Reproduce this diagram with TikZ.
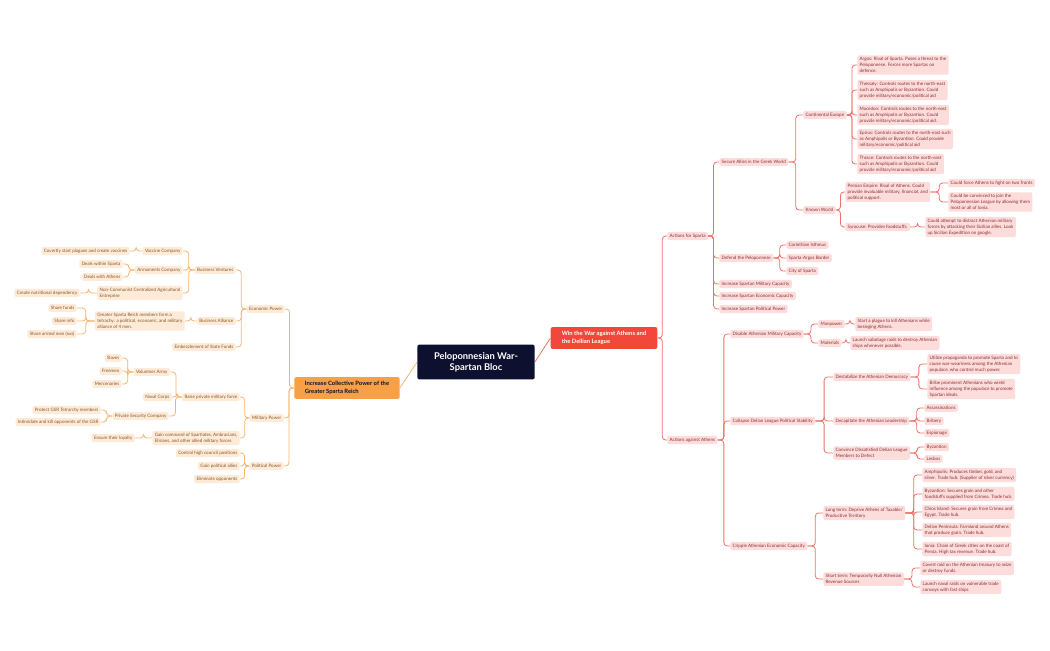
\documentclass[tikz,border=0pt]{standalone}
\usepackage{fontspec}
\setmainfont{Lato}
\usetikzlibrary{calc}
\definecolor{rfill}{HTML}{FDDCDC}
\definecolor{rtext}{HTML}{8B2E2E}
\definecolor{rline}{HTML}{F07068}
\definecolor{lfill}{HTML}{FDEBD8}
\definecolor{ltext}{HTML}{8A5426}
\definecolor{lline}{HTML}{F6B46E}
\definecolor{rootc}{HTML}{0E1030}
\definecolor{rmain}{HTML}{F4473B}
\definecolor{lmain}{HTML}{F7A046}
\tikzset{
 base/.style={rounded corners=1.5pt,inner xsep=1.8pt,inner ysep=1.6pt,align=left,font=\fontsize{3.4}{4.4}\selectfont},
 R/.style={base,fill=rfill,text=rtext,anchor=west},
 L/.style={base,fill=lfill,text=ltext,anchor=east},
 rl/.style={draw=rline,line width=0.6pt,rounded corners=2.5pt},
 ll/.style={draw=lline,line width=0.6pt,rounded corners=2.5pt},
}
\newcommand\rc[2]{\path ($(#1.east)!.5!(#2.west)$) coordinate (mm); \draw[rl] (#1.east) -- (#1.east -| mm) |- (#2.west);}
\newcommand\lc[2]{\path ($(#1.west)!.5!(#2.east)$) coordinate (mm); \draw[ll] (#1.west) -- (#1.west -| mm) |- (#2.east);}
\begin{document}
\begin{tikzpicture}[x=0.75pt,y=-0.75pt]
\useasboundingbox (0,0) rectangle (1050,650);
\node[fill=rootc,text=white,rounded corners=1.5pt,minimum width=88pt,minimum height=26pt,align=center,font=\fontsize{7}{8.5}\selectfont\bfseries] (root) at (476,362) {Peloponnesian War-\\Spartan Bloc};
\node[fill=rmain,text=white,rounded corners=1.5pt,minimum width=80pt,minimum height=16pt,align=left,font=\fontsize{4.4}{5.6}\selectfont\bfseries] (win) at (604,338) {Win the War against Athens and\\the Dellian League};
\node[fill=lmain,text=rootc,rounded corners=1.5pt,minimum width=79pt,minimum height=16pt,align=left,font=\fontsize{4.4}{5.6}\selectfont\bfseries] (inc) at (347,388) {Increase Collective Power of the\\Greater Sparta Reich};
\draw[rl] (root.east) -- (win.west);
\draw[ll] (root.west) -- (inc.east);
% ===== right side
\node[R] (afs) at (667,236) {Actions for Sparta};
\node[R] (aga) at (667,440) {Actions against Athens};
\rc{win}{afs}\rc{win}{aga}
\node[R] (sec) at (719,162) {Secure Allies in the Greek World};
\node[R] (def) at (719,258) {Defend the Peloponnese};
\node[R] (imc) at (719,284) {Increase Spartan Military Capacity};
\node[R] (iec) at (719,296) {Increase Spartan Economic Capacity};
\node[R] (ipp) at (719,309) {Increase Spartan Political Power};
\rc{afs}{sec}\rc{afs}{def}\rc{afs}{imc}\rc{afs}{iec}\rc{afs}{ipp}
\node[R] (ce) at (803,115) {Continental Europe};
\node[R] (kw) at (803,210) {Known World};
\rc{sec}{ce}\rc{sec}{kw}
\node[R] (argos) at (857,65) {Argos: Rival of Sparta. Poses a threat to the\\Peloponnese. Forces more Spartas on\\defence.};
\node[R] (thes) at (857,90) {Thessaly: Controls routes to the north-east\\such as Amphipolis or Byzantion. Could\\provide military/economic/political aid};
\node[R] (mac) at (857,115) {Macedon: Controls routes to the north-east\\such as Amphipolis or Byzantion. Could\\provide military/economic/political aid.};
\node[R] (epi) at (857,139) {Epirus: Controls routes to the north-east such\\as Amphipolis or Byzantion. Could provide\\military/economic/political aid};
\node[R] (thr) at (857,164) {Thrace: Controls routes to the north-east\\such as Amphipolis or Byzantion. Could\\provide military/economic/political aid};
\rc{ce}{argos}\rc{ce}{thes}\rc{ce}{mac}\rc{ce}{epi}\rc{ce}{thr}
\node[R] (pers) at (845,192) {Persian Empire: Rival of Athens. Could\\provide invaluable military, financial, and\\political support.};
\node[R] (syr) at (845,227) {Syracuse: Provides foodstuffs.};
\rc{kw}{pers}\rc{kw}{syr}
\node[R] (fight) at (948,183) {Could force Athens to fight on two fronts};
\node[R] (conv) at (948,202) {Could be convinced to join the\\Peloponnesian League by allowing them\\most or all of Ionia.};
\rc{pers}{fight}\rc{pers}{conv}
\node[R] (dist) at (925,227) {Could attempt to distract Athenian military\\forces by attacking their Sicilian allies. Look\\up Sicilian Expedition on google.};
\rc{syr}{dist}
\node[R] (cor) at (786,245) {Corinthian Isthmus};
\node[R] (sab) at (786,258) {Sparta-Argos Border};
\node[R] (cos) at (786,271) {City of Sparta};
\rc{def}{cor}\rc{def}{sab}\rc{def}{cos}
% actions against Athens
\node[R] (dis) at (730,334) {Disable Athenian Military Capacity};
\node[R] (col) at (730,421) {Collapse Delian League Political Stability};
\node[R] (cri) at (730,546) {Cripple Athenian Economic Capacity};
\rc{aga}{dis}\rc{aga}{col}\rc{aga}{cri}
\node[R] (man) at (818,324) {Manpower};
\node[R] (mat) at (818,343) {Materials};
\rc{dis}{man}\rc{dis}{mat}
\node[R] (plg) at (855,324) {Start a plague to kill Athenians while\\besieging Athens.};
\node[R] (lsab) at (850,343) {Launch sabotage raids to destroy Athenian\\ships whenever possible.};
\rc{man}{plg}\rc{mat}{lsab}
\node[R] (dest) at (833,377) {Destabilize the Athenian Democracy};
\node[R] (deca) at (833,421) {Decapitate the Athenian Leadership};
\node[R] (cdis) at (833,453) {Convince Dissatisfied Delian League\\Members to Defect};
\rc{col}{dest}\rc{col}{deca}\rc{col}{cdis}
\node[R] (util) at (927,364) {Utilize propaganda to promote Sparta and to\\cause war-weariness among the Athenian\\populace, who control much power.};
\node[R] (brib) at (927,389) {Bribe prominent Athenians who wield\\influence among the populace to promote\\Spartan ideals.};
\rc{dest}{util}\rc{dest}{brib}
\node[R] (ass) at (924,408) {Assassinations};
\node[R] (bry) at (924,421) {Bribery};
\node[R] (esp) at (924,433) {Espionage};
\rc{deca}{ass}\rc{deca}{bry}\rc{deca}{esp}
\node[R] (byz) at (924,447) {Byzantion};
\node[R] (les) at (924,459) {Lesbos};
\rc{cdis}{byz}\rc{cdis}{les}
\node[R] (lt) at (823,513) {Long term: Deprive Athens of Taxable/\\Productive Territory};
\node[R] (st) at (823,579) {Short term: Temporarily Null Athenian\\Revenue Sources};
\rc{cri}{lt}\rc{cri}{st}
\node[R] (amp) at (922,475) {Amphipolis: Produces timber, gold, and\\silver. Trade hub. (Supplier of silver currency)};
\node[R] (byz2) at (922,494) {Byzantion: Secures grain and other\\foodstuffs supplied from Crimea. Trade hub.};
\node[R] (chi) at (922,512) {Chios Island: Secures grain from Crimea and\\Egypt. Trade hub.};
\node[R] (delp) at (922,530) {Delian Peninsula: Farmland around Athens\\that produce grain. Trade hub.};
\node[R] (ion) at (922,549) {Ionia: Chain of Greek cities on the coast of\\Persia. High tax revenue. Trade hub.};
\rc{lt}{amp}\rc{lt}{byz2}\rc{lt}{chi}\rc{lt}{delp}\rc{lt}{ion}
\node[R] (cov) at (920,568) {Covert raid on the Athenian treasury to seize\\or destroy funds.};
\node[R] (lnr) at (920,587) {Launch naval raids on vulnerable trade\\convoys with fast ships};
\rc{st}{cov}\rc{st}{lnr}
% ===== left side
\node[L] (eco) at (285,309) {Economic Power};
\node[L] (mil) at (284,418) {Military Power};
\node[L] (pol) at (284,466) {Political Power};
\lc{inc}{eco}\lc{inc}{mil}\lc{inc}{pol}
\node[L] (bv) at (236,270) {Business Ventures};
\node[L] (ba) at (236,321) {Business Alliance};
\node[L] (emb) at (236,347) {Embezzlement of State Funds};
\lc{eco}{bv}\lc{eco}{ba}\lc{eco}{emb}
\node[L] (vac) at (183,251) {Vaccine Company};
\node[L] (arm) at (183,270) {Armaments Company};
\node[L] (ncc) at (183,293) {Non-Communist Centralized Agricultural\\Entreprise};
\lc{bv}{vac}\lc{bv}{arm}\lc{bv}{ncc}
\node[L] (cov2) at (130,251) {Covertly start plagues and create vaccines};
\lc{vac}{cov2}
\node[L] (dws) at (123,264) {Deals within Sparta};
\node[L] (dwa) at (123,277) {Deals with Athens};
\lc{arm}{dws}\lc{arm}{dwa}
\node[L] (cnd) at (80,293) {Create nutritional dependency};
\lc{ncc}{cnd}
\node[L] (gsr) at (185,321) {Greater Sparta Reich members form a\\tetrachy: a political, economic, and military\\alliance of 4 men.};
\lc{ba}{gsr}
\node[L] (sf) at (77,308) {Share funds};
\node[L] (si) at (77,321) {Share info};
\node[L] (sam) at (77,334) {Share armed men (sus)};
\lc{gsr}{sf}\lc{gsr}{si}\lc{gsr}{sam}
\node[L] (rpm) at (240,397) {Raise private military force};
\node[L] (gc) at (240,438) {Gain command of Spartiates, Ambracians,\\Elisians, and other allied military forces};
\lc{mil}{rpm}\lc{mil}{gc}
\node[L] (va) at (170,372) {Volunteer Army};
\node[L] (nc) at (172,397) {Naval Corps};
\node[L] (psc) at (169,416) {Private Security Company};
\lc{rpm}{va}\lc{rpm}{nc}\lc{rpm}{psc}
\node[L] (sl) at (122,358) {Slaves};
\node[L] (fr) at (122,371) {Freemen};
\node[L] (mer) at (122,384) {Mercenaries};
\lc{va}{sl}\lc{va}{fr}\lc{va}{mer}
\node[L] (pgt) at (101,410) {Protect GSR Tetrarchy members};
\node[L] (ika) at (101,422) {Intimidate and kill opponents of the GSR};
\lc{psc}{pgt}\lc{psc}{ika}
\node[L] (etl) at (135,438) {Ensure their loyalty};
\lc{gc}{etl}
\node[L] (chc) at (240,453) {Control high council positions};
\node[L] (gpa) at (240,466) {Gain political allies};
\node[L] (elo) at (240,479) {Eliminate opponents};
\lc{pol}{chc}\lc{pol}{gpa}\lc{pol}{elo}
\end{tikzpicture}
\end{document}
